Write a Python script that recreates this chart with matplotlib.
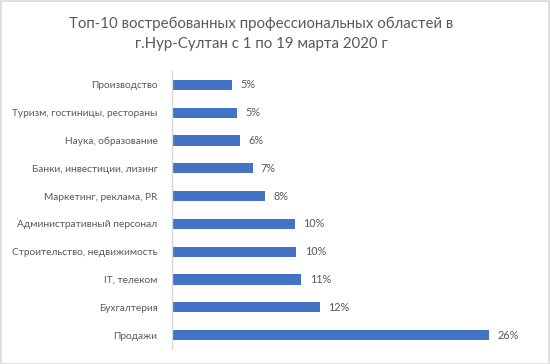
import matplotlib
matplotlib.use("Agg")
import matplotlib.pyplot as plt
from matplotlib.patches import Rectangle

plt.rcParams['font.family'] = ['Lato', 'Open Sans', 'DejaVu Sans']

categories = ["Производство", "Туризм, гостиницы, рестораны", "Наука, образование",
              "Банки, инвестиции, лизинг", "Маркетинг, реклама, PR",
              "Административный персонал", "Строительство, недвижимость",
              "IT, телеком", "Бухгалтерия", "Продажи"]
values = [4.9, 5.3, 5.6, 6.6, 7.6, 10.1, 10.2, 10.6, 12.1, 26.0]
title = "Топ-10 востребованных профессиональных областей в\nг.Нур-Султан с 1 по 19 марта 2020 г"

W, H = 550, 364
fig = plt.figure(figsize=(W/100, H/100), dpi=100)
fig.patch.set_facecolor('white')
fig.add_artist(Rectangle((0.5/W, 0.5/H), 1-1.5/W, 1-1.5/H, transform=fig.transFigure,
                         fill=False, edgecolor='#d9d9d9', linewidth=1.2))

left, right = 172, 520
top, bottom = 71, 349
ax = fig.add_axes([left/W, 1-bottom/H, (right-left)/W, (bottom-top)/H])
n = len(categories)
ypos = list(range(n))
ax.barh(ypos, values, height=0.36, color='#4472C4')
ax.set_ylim(n-0.5, -0.5)
ax.set_xlim(0, (right-left)/12.2)
ax.set_yticks(ypos)
ax.set_yticklabels(categories, fontsize=7.3, color='#595959')
ax.tick_params(axis='y', length=0, pad=10.5)
ax.set_xticks([])
for s in ['top', 'right', 'bottom']:
    ax.spines[s].set_visible(False)
ax.spines['left'].set_color('#d9d9d9')
ax.spines['left'].set_linewidth(1)
for y, v in zip(ypos, values):
    ax.annotate(f"{v:.0f}%", (v, y), xytext=(6, 0), textcoords='offset points',
                va='center', ha='left', fontsize=7.8, color='#595959')

fig.text(261/W, 1-34/H, title, ha='center', va='center', fontsize=10.8,
         color='#595959', linespacing=1.5)

fig.savefig("out.png", dpi=100)
